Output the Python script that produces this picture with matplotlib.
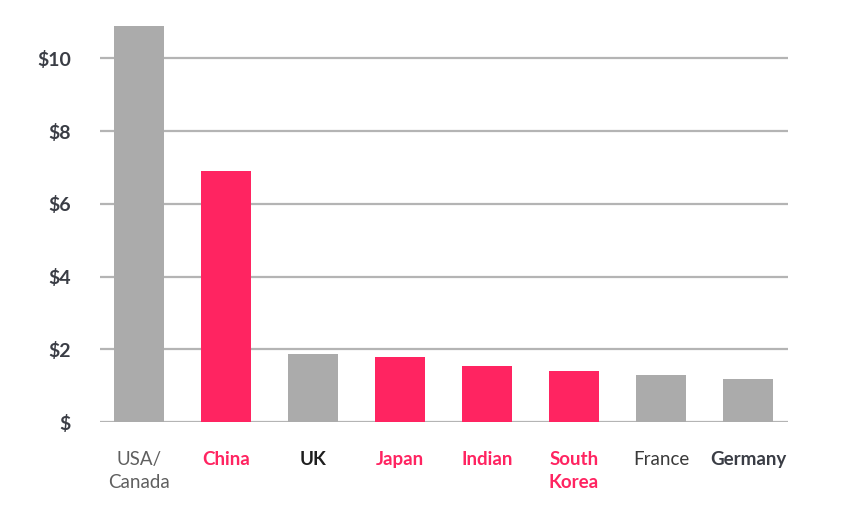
import matplotlib.pyplot as plt

countries = ["USA/\nCanada", "China", "UK", "Japan", "Indian", "South\nKorea", "France", "Germany"]
values = [10.9, 6.9, 1.87, 1.79, 1.53, 1.41, 1.28, 1.18]
highlight = [False, True, False, True, True, True, False, False]
y_ticks = [0, 2, 4, 6, 8, 10]
y_labels = ["$", "$2", "$4", "$6", "$8", "$10"]

PINK = "#ff2461"
GRAY = "#ababab"
label_colors = ["#5f5f5f", PINK, "#1e1e1e", PINK, PINK, PINK, "#3a3a3a", "#3a3d45"]
label_weights = ["normal", "bold", "bold", "bold", "bold", "bold", "normal", "bold"]

plt.rcParams["font.family"] = ["Lato", "DejaVu Sans"]

fig = plt.figure(figsize=(8.5, 5.11), dpi=100)
ax = fig.add_axes([100 / 850, 89 / 511, 688 / 850, 400 / 511])

x = list(range(len(countries)))
ax.bar(x, values, width=0.575,
       color=[PINK if h else GRAY for h in highlight], zorder=3)

ax.set_xlim(-0.45, 7.46)
ax.set_ylim(0, 11.0)
ax.set_yticks(y_ticks)
ax.set_yticklabels(y_labels, fontsize=14, fontweight="bold", color="#3a3d45")
ax.yaxis.grid(True, color="#b4b4b4", linewidth=1.6, zorder=0)
ax.set_axisbelow(True)
ax.tick_params(axis="y", length=0, pad=21)

ax.set_xticks(x)
ax.set_xticklabels(countries, fontsize=13.5, linespacing=1.45)
ax.tick_params(axis="x", length=0, pad=21)
for lbl, c, w in zip(ax.get_xticklabels(), label_colors, label_weights):
    lbl.set_color(c)
    lbl.set_fontweight(w)

for s in ax.spines.values():
    s.set_visible(False)

fig.savefig("out.png", dpi=100)
